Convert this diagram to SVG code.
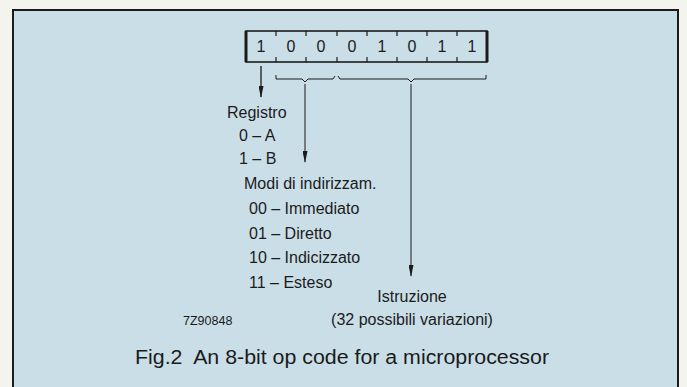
<svg xmlns="http://www.w3.org/2000/svg" width="687" height="387" viewBox="0 0 687 387">
<defs>
<style>
.t{font-family:"Liberation Sans",Arial,sans-serif;fill:#1b1b1b}
.lbl{font-size:16px}
.dig{font-size:16px;text-anchor:middle}
.ln{stroke:#1b1b1b;fill:none}
</style>
<marker id="ah" viewBox="0 0 12 5" refX="11" refY="2.5" markerWidth="12" markerHeight="5" markerUnits="userSpaceOnUse" orient="auto">
<path d="M0,0 L12,2.5 L0,5 Z" fill="#1b1b1b"/>
</marker>
</defs>
<rect x="0" y="0" width="687" height="387" fill="#f4f4ef"/>
<rect x="13" y="10" width="665" height="390" fill="#cadee8" stroke="#1b1b1b" stroke-width="2"/>
<g id="register">
<rect x="246" y="31" width="241" height="31" class="ln" stroke-width="1.6"/>
<line x1="246" y1="31" x2="246" y2="62" class="ln" stroke-width="3"/>
<line x1="487" y1="31" x2="487" y2="62" class="ln" stroke-width="3"/>
<path class="ln" stroke-width="1.2" d="M276,31v5M276,62v-5M306,31v5M306,62v-5M337,31v5M337,62v-5M367,31v5M367,62v-5M397,31v5M397,62v-5M427,31v5M427,62v-5M457,31v5M457,62v-5"/>
<text class="t dig" x="261" y="52">1</text>
<text class="t dig" x="291" y="52">0</text>
<text class="t dig" x="321" y="52">0</text>
<text class="t dig" x="352" y="52">0</text>
<text class="t dig" x="382" y="52">1</text>
<text class="t dig" x="412" y="52">0</text>
<text class="t dig" x="442" y="52">1</text>
<text class="t dig" x="472" y="52">1</text>
</g>
<g id="connectors">
<path class="ln" stroke-width="1" d="M276,75 L276,79 L302,79 L305,82 L308,79 L333,79 L335,76 M338,76 L340,79 L408,79 L411,82 L414,79 L486,79 L486,75"/>
<line class="ln" x1="261" y1="66" x2="261" y2="97" stroke-width="1.3" marker-end="url(#ah)"/>
<line class="ln" x1="305" y1="84" x2="305" y2="162" stroke-width="1" marker-end="url(#ah)"/>
<line class="ln" x1="411" y1="84" x2="411" y2="276" stroke-width="1" marker-end="url(#ah)"/>
</g>
<g id="registro">
<text class="t lbl" x="227" y="118">Registro</text>
<text class="t lbl" x="239" y="141">0 – A</text>
<text class="t lbl" x="239" y="164">1 – B</text>
</g>
<g id="modi">
<text class="t lbl" x="244" y="189">Modi di indirizzam.</text>
<text class="t lbl" x="249" y="214">00 – Immediato</text>
<text class="t lbl" x="249" y="239">01 – Diretto</text>
<text class="t lbl" x="249" y="263">10 – Indicizzato</text>
<text class="t lbl" x="249" y="288">11 – Esteso</text>
</g>
<g id="istruzione">
<text class="t lbl" x="412" y="302" text-anchor="middle">Istruzione</text>
<text class="t lbl" x="412" y="325" text-anchor="middle">(32 possibili variazioni)</text>
</g>
<text class="t" x="183" y="325" font-size="12.5">7Z90848</text>
<text class="t" x="135" y="364" font-size="20" textLength="414" lengthAdjust="spacingAndGlyphs">Fig.2&#160; An 8-bit op code for a microprocessor</text>
</svg>
